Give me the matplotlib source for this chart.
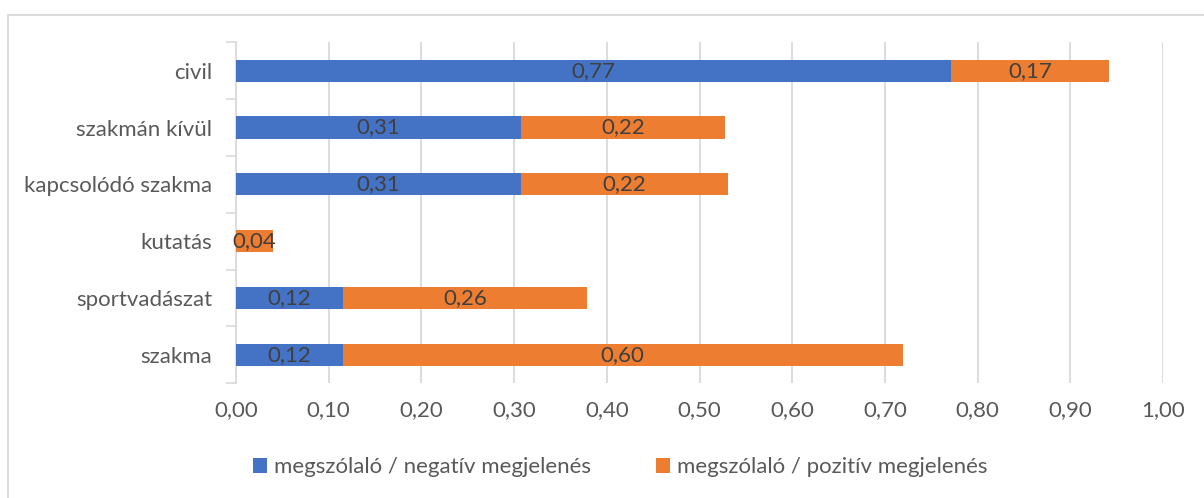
import numpy as np
import matplotlib
matplotlib.use('Agg')
import matplotlib.pyplot as plt
from matplotlib.patches import Rectangle

plt.rcParams['font.family'] = ['Lato', 'DejaVu Sans']

# data, top to bottom as shown
categories = ['civil', 'szakmán kívül', 'kapcsolódó szakma', 'kutatás', 'sportvadászat', 'szakma']
negative = [0.771, 0.307, 0.307, 0.0, 0.115, 0.115]
positive = [0.171, 0.221, 0.224, 0.040, 0.264, 0.604]
series_names = ['megszólaló / negatív megjelenés', 'megszólaló / pozitív megjelenés']
xticks = np.arange(0, 1.01, 0.1)

blue = '#4472C4'
orange = '#ED7D31'
grid_col = '#D9D9D9'
txt_col = '#595959'
lab_col = '#404040'
fs = 16

def fmt(v):
    return f'{v:.2f}'.replace('.', ',')

fig = plt.figure(figsize=(12.04, 4.98), dpi=100)
ax = fig.add_axes([236 / 1204, 1 - 383.3 / 498, (1163 - 236) / 1204, (383.3 - 42.3) / 498])

y = np.arange(len(categories))
bh = 0.39
b1 = ax.barh(y, negative, height=bh, color=blue, label=series_names[0], zorder=3)
b2 = ax.barh(y, positive, left=negative, height=bh, color=orange, label=series_names[1], zorder=3)

# data labels in the middle of each segment
for i in range(len(categories)):
    if negative[i] > 0:
        ax.text(negative[i] / 2, y[i], fmt(negative[i]), ha='center', va='center',
                fontsize=fs, color=lab_col, zorder=4)
    if positive[i] > 0:
        ax.text(negative[i] + positive[i] / 2, y[i], fmt(positive[i]), ha='center', va='center',
                fontsize=fs, color=lab_col, zorder=4)

ax.set_xlim(0, 1.0)
ax.set_ylim(len(categories) - 0.5, -0.5)
ax.set_xticks(xticks)
ax.set_xticklabels([fmt(t) for t in xticks])
ax.set_yticks(y)
ax.set_yticklabels(categories)
ax.set_yticks(np.arange(-0.5, len(categories)), minor=True)

ax.tick_params(axis='x', length=0, pad=12, labelsize=fs, labelcolor=txt_col)
ax.tick_params(axis='y', which='major', length=0, pad=17, labelsize=fs, labelcolor=txt_col)
ax.tick_params(axis='y', which='minor', length=7, width=1.2, color=grid_col, direction='out')

ax.grid(axis='x', color=grid_col, linewidth=1.3, zorder=0)
for s in ['top', 'right', 'bottom']:
    ax.spines[s].set_visible(False)
ax.spines['left'].set_color(grid_col)
ax.spines['left'].set_linewidth(1.2)

fig.legend(handles=[b1, b2], labels=series_names, loc='center', bbox_to_anchor=(0.515, 1 - 467 / 498),
           ncol=2, frameon=False, fontsize=fs, labelcolor=txt_col,
           handlelength=0.65, handleheight=0.65, handletextpad=0.3, columnspacing=2.9)

# outer chart border (cropped at right and bottom)
fig.patches.append(Rectangle((8 / 1204, -0.1), 1.2, 1.1 - 15 / 498, transform=fig.transFigure,
                             fill=False, edgecolor=grid_col, linewidth=1.3))

fig.savefig('out.png', dpi=100)
